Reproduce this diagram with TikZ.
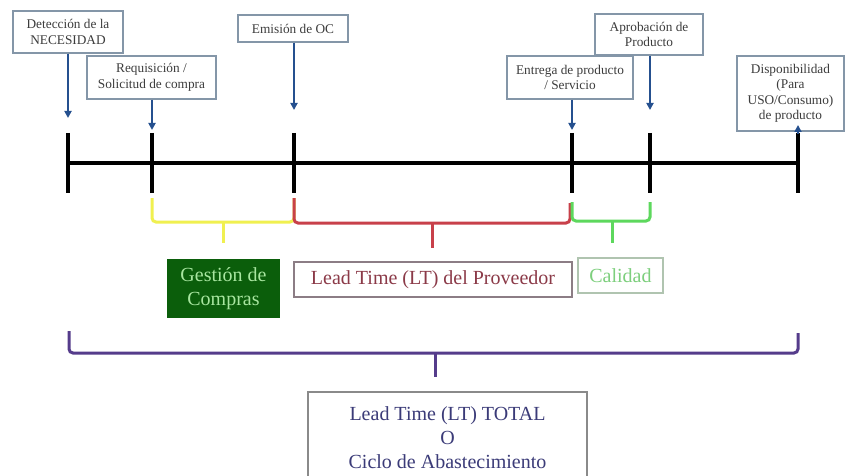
\documentclass[tikz,border=0pt]{standalone}
\usepackage{fontspec}
\setmainfont{Liberation Serif}
\usetikzlibrary{arrows.meta}
\definecolor{boxgray}{HTML}{8496A8}
\definecolor{textgray}{HTML}{3C3C3C}
\definecolor{arrowblue}{HTML}{25508F}
\definecolor{braceyellow}{HTML}{F0F050}
\definecolor{bracered}{HTML}{C8404A}
\definecolor{bracegreen}{HTML}{5DD85D}
\definecolor{bracepurple}{HTML}{553C8B}
\definecolor{gcfill}{HTML}{0B5E0B}
\definecolor{gctext}{HTML}{A8E6A0}
\definecolor{lptext}{HTML}{8B3A48}
\definecolor{lpborder}{HTML}{8C7D85}
\definecolor{caltext}{HTML}{7DCF7D}
\definecolor{calborder}{HTML}{B0C4B0}
\definecolor{tottext}{HTML}{3B3B78}
\definecolor{totborder}{HTML}{8A8A8A}
\begin{document}
\begin{tikzpicture}[x=1pt,y=-1pt,
  evbox/.style={draw=boxgray, line width=1.3pt, fill=white, align=center,
    inner sep=0pt, text=textgray, font=\fontsize{13.3}{15.5}\selectfont},
  arr/.style={draw=arrowblue, line width=2pt,
    -{Triangle[length=7pt,width=7pt]}},
  tickline/.style={line width=4pt, black},
  brace/.style={line width=3pt, rounded corners=4pt},
  bigbox/.style={align=center, inner sep=0pt, line width=1.3pt,
    font=\fontsize{20}{24}\selectfont}]
\fill[white] (0,0) rectangle (846,476);
\useasboundingbox (0,0) rectangle (846,476);

% event boxes
\node[evbox, minimum width=110pt, minimum height=42pt] (e1) at (68,32)
  {Detección de la\\NECESIDAD};
\node[evbox, minimum width=129pt, minimum height=43pt] (e2) at (151.5,77.5)
  {Requisición /\\Solicitud de compra};
\node[evbox, minimum width=110pt, minimum height=27pt] (e3) at (293,28.5)
  {Emisión de OC};
\node[evbox, minimum width=126pt, minimum height=43pt] (e4) at (570,77.5)
  {Entrega de producto\\/ Servicio};
\node[evbox, minimum width=108pt, minimum height=41pt] (e5) at (649,34.5)
  {Aprobación de\\Producto};
\node[evbox, minimum width=107pt, minimum height=75pt] (e6) at (790.5,93.5)
  {Disponibilidad\\(Para\\USO/Consumo)\\de producto};

% timeline and ticks
\coordinate (t1) at (68,163);
\coordinate (t2) at (152,163);
\coordinate (t3) at (294,163);
\coordinate (t4) at (572,163);
\coordinate (t5) at (650,163);
\coordinate (t6) at (798,163);
\draw[tickline] (t1) -- (t6);
\foreach \t in {t1,t2,t3,t4,t5,t6}
  \draw[tickline] (\t) ++(0,-30) -- ++(0,60);

% arrows from the events to the timeline
\coordinate (a1) at (68,118);
\coordinate (a2) at (152,130);
\coordinate (a3) at (294,110);
\coordinate (a4) at (572,130);
\coordinate (a5) at (650,110);
\coordinate (s6) at (798,134);
\coordinate (a6) at (798,125);
\draw[arr] (e1.south) -- (a1);
\draw[arr] (e2.south -| a2) -- (a2);
\draw[arr] (e3.south -| a3) -- (a3);
\draw[arr] (e4.south -| a4) -- (a4);
\draw[arr] (e5.south -| a5) -- (a5);
\draw[arr] (s6) -- (a6);

% braces under the timeline
\draw[brace, draw=braceyellow] (152,198) -- (152,222) -- (294,222) -- (294,198);
\draw[brace, draw=braceyellow] (223,222) -- (223,243);
\draw[brace, draw=bracered] (294,198) -- (294,223) -- (570,223) -- (570,203);
\draw[brace, draw=bracered] (432,223) -- (432,248);
\draw[brace, draw=bracegreen] (572,202) -- (572,221) -- (650,221) -- (650,202);
\draw[brace, draw=bracegreen] (612,221) -- (612,243);

% stage labels
\node[bigbox, fill=gcfill, text=gctext, minimum width=113pt, minimum height=59pt]
  (gc) at (223.5,288.5) {Gestión de\\Compras};
\node[bigbox, draw=lpborder, fill=white, text=lptext, minimum width=278pt,
  minimum height=35pt] (lp) at (433,279.5) {Lead Time (LT) del Proveedor};
\node[bigbox, draw=calborder, fill=white, text=caltext, minimum width=85pt,
  minimum height=35pt] (cal) at (620.5,275.5) {Calidad};

% total brace and label
\draw[brace, draw=bracepurple] (69,331) -- (69,353) -- (798,353) -- (798,333);
\draw[brace, draw=bracepurple] (435,353) -- (435,377);
\node[bigbox, draw=totborder, fill=white, text=tottext, minimum width=279pt,
  minimum height=92pt] (tot) at (447.5,438)
  {Lead Time (LT) TOTAL\\O\\Ciclo de Abastecimiento};
\end{tikzpicture}
\end{document}
